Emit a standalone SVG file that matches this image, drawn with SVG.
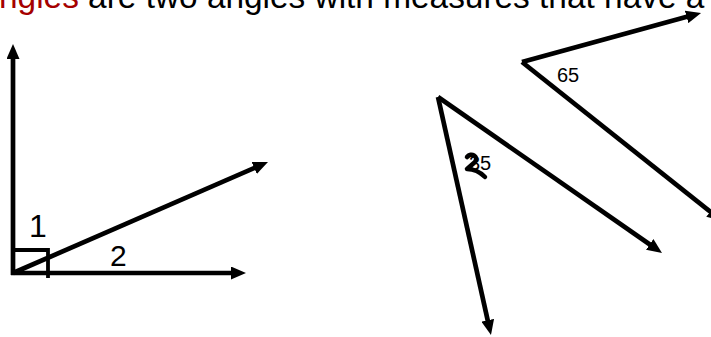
<svg xmlns="http://www.w3.org/2000/svg" width="711" height="337" viewBox="0 0 711 337">
  <style>
    .ray { stroke: #000; stroke-width: 4.7; fill: none; marker-end: url(#arrow); }
    .box { stroke: #000; stroke-width: 3.8; fill: none; }
    .lbl { font-family: "Liberation Sans", Arial, sans-serif; fill: #000; }
    .title { font-family: "Liberation Sans", Arial, sans-serif; font-size: 33.4px; fill: #000; }
  </style>
  <defs>
    <marker id="arrow" markerUnits="userSpaceOnUse" viewBox="0 0 15 13" markerWidth="15" markerHeight="13" refX="5" refY="6.5" orient="auto">
      <path d="M0,0 L15,6.5 L0,13 Z" fill="#000"/>
    </marker>
  </defs>
  <rect width="711" height="337" fill="#fff"/>

  <g id="title">
    <text class="title" x="-1" y="7.5"><tspan fill="#A50000">ngles</tspan> are two angles with measures that have a</text>
  </g>

  <g id="connectors">
    <!-- left figure -->
    <line class="ray" x1="13" y1="275" x2="13" y2="54"/>
    <line class="ray" x1="11" y1="273" x2="236" y2="273"/>
    <line class="ray" x1="13" y1="273" x2="258.8" y2="166"/>
    <!-- right lower angle -->
    <line class="ray" x1="438" y1="97" x2="488.8" y2="325.2"/>
    <line class="ray" x1="438" y1="97" x2="653.8" y2="247.3"/>
    <!-- right upper angle -->
    <line class="ray" x1="522" y1="62" x2="691.4" y2="15.6"/>
    <line class="ray" x1="522" y1="62" x2="714.2" y2="214.8"/>
  </g>

  <g id="right-angle-mark">
    <polyline class="box" points="13,250 48,250 48,278"/>
  </g>

  <g id="angle1">
    <text class="lbl" x="29" y="237" font-size="32">1</text>
  </g>
  <g id="angle2">
    <text class="lbl" x="110" y="266" font-size="30">2</text>
  </g>
  <g id="angle65">
    <text class="lbl" x="557" y="82" font-size="20">65</text>
  </g>
  <g id="angle35">
    <text class="lbl" x="469" y="170" font-size="20">35</text>
    <path d="M467,157 C471,152 479,156 475,162 L467,169 C474,169 479,171 485,177" stroke="#000" stroke-width="4.5" fill="none" stroke-linecap="round" stroke-linejoin="round"/>
  </g>
</svg>
